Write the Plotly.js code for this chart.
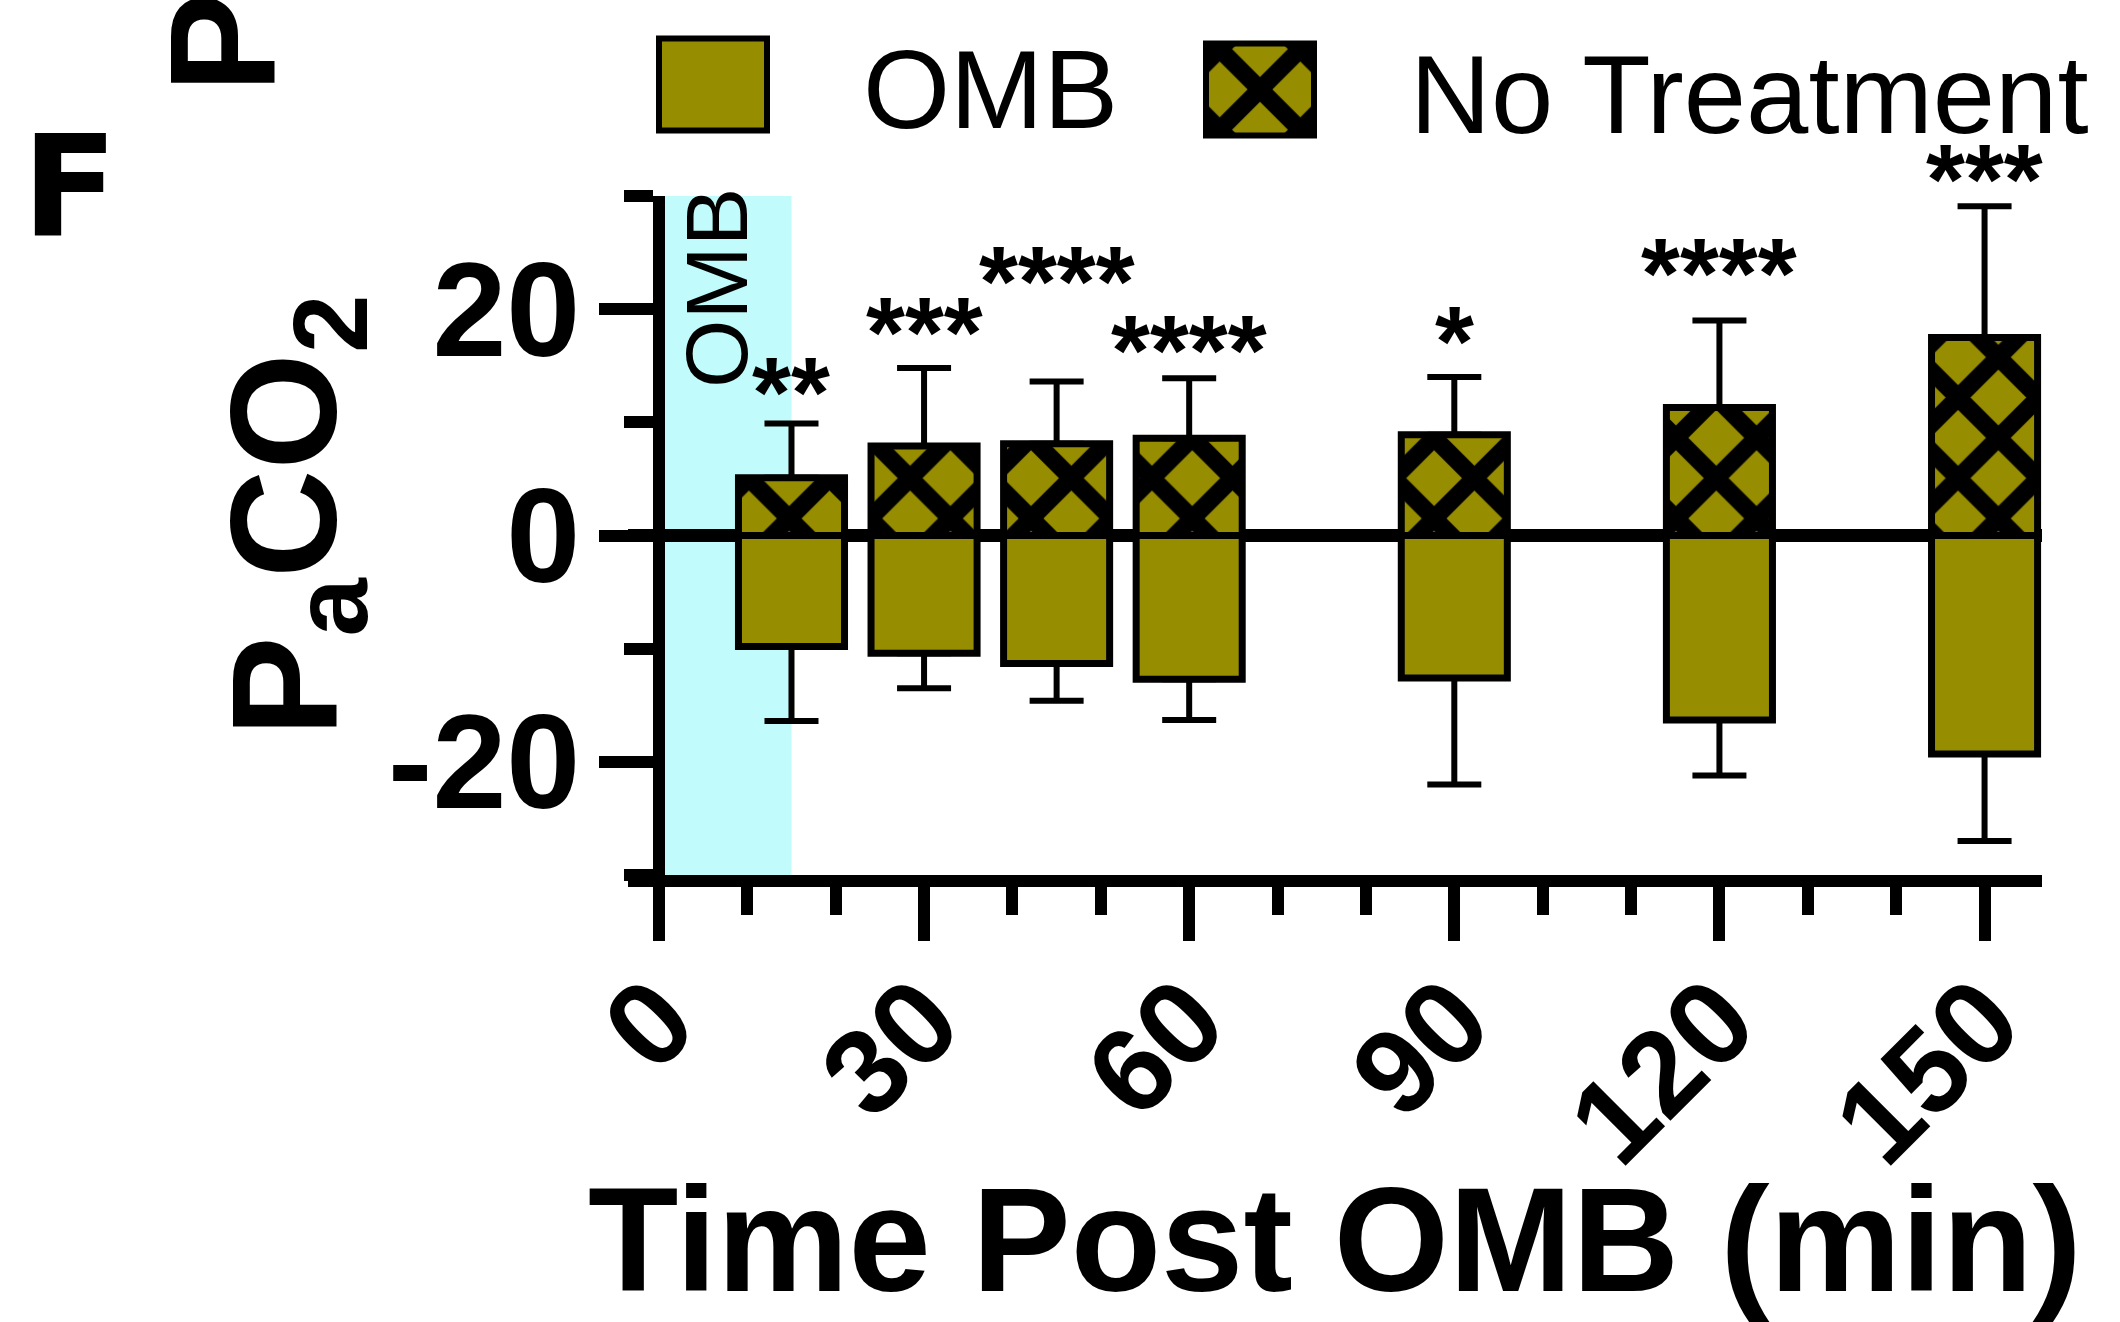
<!DOCTYPE html>
<html><head><meta charset="utf-8">
<script src="https://cdn.plot.ly/plotly-3.0.1.min.js"></script>
<style>html,body{margin:0;padding:0;background:#fff}#chart{width:2120px;height:1322px}</style>
</head><body><div id="chart"></div>
<script>
// ---- data ----
const times = [15, 30, 45, 60, 90, 120, 150];
const ombMean = [-9.8, -10.4, -11.3, -12.7, -12.6, -16.3, -19.3];
const ombSD = [6.6, 3.1, 3.3, 3.6, 9.4, 4.9, 7.7];
const ntMean = [5.1, 7.9, 8.1, 8.6, 8.9, 11.3, 17.5];
const ntSD = [4.8, 6.9, 5.5, 5.3, 5.1, 7.7, 11.6];
const sigLabels = ['**', '***', '****', '****', '*', '****', '***'];
const sigY = [13.2, 18.5, 23.0, 16.9, 17.7, 23.7, 32.0];
const xTickVals = [0, 30, 60, 90, 120, 150];
const xTickText = ['0', '30', '60', '90', '120', '150'];
const yTickVals = [-20, 0, 20];
const yTickText = ['-20', '0', '20'];
const seriesNames = ['OMB', 'No Treatment'];
const treatmentWindow = [0, 15];
const xRange = [-3.5, 156.5];
const yRange = [-30, 30];

// ---- styling ----
const FONT = 'Liberation Sans, Arial, Helvetica, sans-serif';
const OLIVE = '#978d00';
const LW = 12;
const L = 628, R = 78, T = 185, B = 447, W = 2120, H = 1322;
const PW = W - L - R, PH = H - T - B;
const px2x = p => (p - L) / PW;
const px2y = p => (H - B - p) / PH;
const val2paper = v => (v - yRange[0]) / (yRange[1] - yRange[0]);

const zeros = times.map(() => 0);

const traceOMB = {
  type: 'bar', name: seriesNames[0], x: times, y: ombMean, width: 12,
  marker: { color: OLIVE, line: { color: '#000', width: 7 } },
  error_y: { type: 'data', symmetric: false, array: zeros, arrayminus: ombSD,
             color: '#000', thickness: 6, width: 27 },
  legend: 'legend', hoverinfo: 'skip'
};
const traceNT = {
  type: 'bar', name: seriesNames[1], x: times, y: ntMean, width: 12,
  marker: { color: OLIVE, line: { color: '#000', width: 7 },
            pattern: { shape: 'x', fgcolor: '#000', bgcolor: OLIVE, size: 57, solidity: 0.52, fillmode: 'replace' } },
  error_y: { type: 'data', symmetric: false, array: ntSD, arrayminus: zeros,
             color: '#000', thickness: 6, width: 27 },
  legend: 'legend2', hoverinfo: 'skip'
};

const annotations = sigLabels.map((s, i) => ({
  x: times[i], y: val2paper(sigY[i]), xref: 'x', yref: 'paper', text: s, showarrow: false,
  xanchor: 'center', yanchor: 'middle', yshift: -6,
  font: { family: FONT, size: 100, weight: 'bold', color: '#000' }
}));
annotations.push({
  x: 6.45, y: 30, xref: 'x', yref: 'y', text: 'OMB', textangle: -90, showarrow: false,
  xanchor: 'center', yanchor: 'top', yshift: 10, font: { family: FONT, size: 88, color: '#000' }
});
annotations.push({
  x: px2x(70), y: px2y(176), xref: 'paper', yref: 'paper', text: 'F', showarrow: false,
  xanchor: 'center', yanchor: 'middle', font: { family: 'DejaVu Sans, ' + FONT, size: 140, weight: 'bold', color: '#000' }
});
annotations.push({
  x: px2x(222), y: px2y(82), xref: 'paper', yref: 'paper', text: 'P', textangle: -90, showarrow: false,
  xanchor: 'center', yanchor: 'bottom', font: { family: FONT, size: 150, weight: 'bold', color: '#000' }
});

const legendBase = {
  orientation: 'h', xanchor: 'left', yanchor: 'middle', itemwidth: 290,
  bgcolor: 'rgba(0,0,0,0)', borderwidth: 0,
  font: { family: FONT, size: 112, color: '#000' }
};

const layout = {
  width: W, height: H,
  margin: { l: L, r: R, t: T, b: B, pad: 0 },
  paper_bgcolor: '#fff', plot_bgcolor: 'rgba(0,0,0,0)',
  barmode: 'overlay', showlegend: true,
  font: { family: FONT, color: '#000' },
  legend: Object.assign({}, legendBase, { x: px2x(563), y: px2y(79) }),
  legend2: Object.assign({}, legendBase, { x: px2x(1110), y: px2y(84) }),
  xaxis: {
    range: xRange, tickmode: 'array', tickvals: xTickVals, ticktext: xTickText,
    ticks: 'outside', ticklen: 54, tickwidth: LW, tickcolor: '#000',
    showline: true, linewidth: LW, linecolor: '#000', showgrid: false, zeroline: false,
    tickangle: -45, ticklabelstandoff: -38,
    tickfont: { family: FONT, size: 120, weight: 'bold', color: '#000' },
    minor: { tickmode: 'linear', tick0: 0, dtick: 10, ticks: 'outside', ticklen: 28, tickwidth: LW, tickcolor: '#000', showgrid: false },
    title: { text: 'Time Post OMB (min)', standoff: 50, font: { family: FONT, size: 148, weight: 'bold', color: '#000' } },
    layer: 'above traces', fixedrange: true
  },
  yaxis: {
    range: yRange, anchor: 'free', position: (0 - xRange[0]) / (xRange[1] - xRange[0]),
    tickmode: 'array', tickvals: yTickVals, ticktext: yTickText,
    ticks: 'outside', ticklen: 54, tickwidth: LW, tickcolor: '#000',
    showline: true, linewidth: LW, linecolor: '#000', showgrid: false,
    zeroline: true, zerolinewidth: 13, zerolinecolor: '#000',
    ticklabelstandoff: -8,
    tickfont: { family: FONT, size: 133, weight: 'bold', color: '#000' },
    minor: { tickmode: 'linear', tick0: 0, dtick: 10, ticks: 'outside', ticklen: 29, tickwidth: LW, tickcolor: '#000', showgrid: false },
    title: { text: 'P<sub>a</sub>CO<sub>2</sub>', standoff: 0, font: { family: FONT, size: 150, weight: 'bold', color: '#000' } },
    layer: 'above traces', fixedrange: true
  },
  shapes: [{
    type: 'rect', xref: 'x', yref: 'y', x0: treatmentWindow[0], x1: treatmentWindow[1], y0: yRange[0], y1: yRange[1],
    fillcolor: '#c1fbfb', line: { width: 0 }, layer: 'below'
  }],
  annotations: annotations
};

Plotly.newPlot('chart', [traceOMB, traceNT], layout, { staticPlot: true, displayModeBar: false })
  .then(gd => {
    // use the bars' own crosshatch fill for the patterned legend swatch
    let patFill = null;
    gd.querySelectorAll('g.trace.bars').forEach(t => {
      const p = t.querySelector('g.point path');
      if (p && p.style.fill && p.style.fill.indexOf('url') >= 0) patFill = p.style.fill;
    });
    // enlarge the legend swatches to the reference's big squares
    gd.querySelectorAll('g.legendpoints path').forEach(p => {
      const patterned = p.style.fill && p.style.fill.indexOf('url') >= 0;
      p.setAttribute('d', 'M54,46H-54V-46H54Z');
      if (patterned && patFill) p.style.fill = patFill;
      p.style.strokeWidth = '6px';
    });
    // the legends are pinned to the paper top; nudge them up slightly
    gd.querySelectorAll('g.infolayer > g').forEach(g => {
      if (g.classList.contains('legend') || g.classList.contains('legend2')) {
        const tr = g.getAttribute('transform') || '';
        const m = tr.match(/translate\(\s*([-\d.e]+)[ ,]+([-\d.e]+)\s*\)/);
        if (m) g.setAttribute('transform', 'translate(' + m[1] + ',' + (parseFloat(m[2]) - 7) + ')');
      }
    });
    // the reference's y title sits a little above the plot centre
    const yt = gd.querySelector('g.g-ytitle');
    if (yt) yt.setAttribute('transform', 'translate(0,-20)');
  });
</script>
</body></html>
